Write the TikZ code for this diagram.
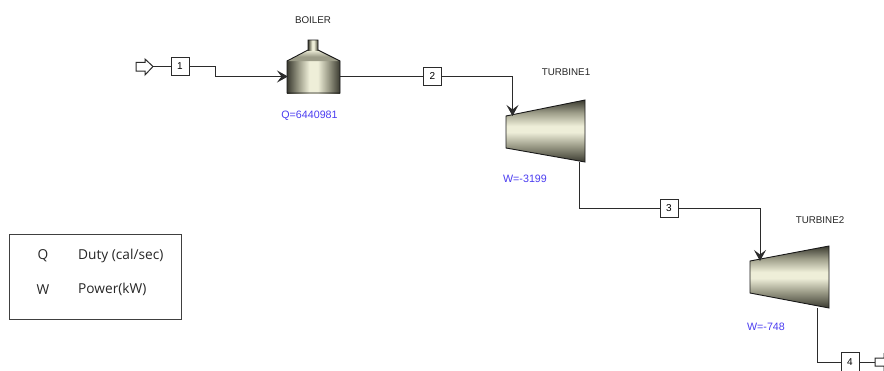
\documentclass[tikz,border=0pt]{standalone}
\usepackage{fontspec}
\setmainfont{Liberation Sans}
\newfontfamily\legendfont{Open Sans}
\usetikzlibrary{arrows.meta}
\definecolor{flowline}{HTML}{2B2B2B}
\definecolor{calc}{HTML}{4A3CF0}
\definecolor{eqdark}{HTML}{3A3A30}
\definecolor{eqmid}{HTML}{9C9C88}
\definecolor{eqlight}{HTML}{EEEED8}
\pgfdeclareverticalshading{turbshade}{100bp}{
  color(0bp)=(eqdark); color(25bp)=(eqdark); color(38bp)=(eqmid); color(49bp)=(eqlight);
  color(54bp)=(eqlight); color(65bp)=(eqmid); color(75bp)=(eqdark); color(100bp)=(eqdark)}
\pgfdeclarehorizontalshading{boilshade}{100bp}{
  color(0bp)=(eqdark); color(25bp)=(eqdark); color(36bp)=(eqmid); color(46bp)=(eqlight); color(54bp)=(eqlight); color(64bp)=(eqmid); color(75bp)=(eqdark); color(100bp)=(eqdark)}
\pgfdeclareverticalshading{coneshade}{100bp}{
  color(0bp)=(eqmid); color(25bp)=(eqmid); color(45bp)=(eqmid); color(75bp)=(eqlight); color(100bp)=(eqlight)}
\tikzset{
  streambox/.style={draw=flowline,fill=white,line width=1pt,minimum width=18pt,minimum height=18.5pt,inner sep=0pt,font=\fontsize{10}{11}\selectfont},
  flow/.style={draw=flowline,line width=1pt},
  flowarrow/.style={flow,-{Stealth[length=11pt,width=12pt,inset=4.5pt]}},
  unitlabel/.style={inner sep=0pt,font=\fontsize{9.8}{11}\selectfont,text=black!85},
  calclabel/.style={inner sep=0pt,font=\fontsize{10.7}{12}\selectfont,text=calc},
  legendtext/.style={inner sep=0pt,font=\legendfont\fontsize{13.7}{15}\selectfont,text=black!85},
  equipline/.style={draw=black!90,line width=.9pt},
  portarrow/.style={draw=flowline,fill=white,line width=1pt,line join=miter}
}
\begin{document}
\begin{tikzpicture}[x=1pt,y=-1pt]
\useasboundingbox (0,0) rectangle (884,370);
\clip (0,0) rectangle (884,370);
% boiler
\path[shade,shading=boilshade] (287,61) rectangle (340,93);
\path[shade,shading=coneshade] (308,50) -- (318,50) -- (340,61) -- (287,61) -- cycle;
\path[shade,shading=boilshade] (308,40) rectangle (318,50);
\draw[equipline] (308,40) -- (318,40) -- (318,50) -- (340,61) -- (340,93) -- (287,93) -- (287,61) -- (308,50) -- cycle;
% turbines
\path[shade,shading=turbshade,equipline] (506,116) -- (585,100) -- (585,162) -- (506,148) -- cycle;
\path[shade,shading=turbshade,equipline] (750,261) -- (829,246) -- (829,308) -- (750,293) -- cycle;
% ports
\coordinate (boilerin) at (288,76.5);
\coordinate (boilerout) at (340,76.5);
\coordinate (t1in) at (512.5,116);
\coordinate (t1out) at (579,162);
\coordinate (t2in) at (760,261);
\coordinate (t2out) at (817,308);
\coordinate (bend1) at (215,66.5);
\coordinate (bend1b) at (215,76.5);
% stream boxes
\node[streambox] (s1) at (180,66.5) {1};
\node[streambox] (s2) at (432.5,76.5) {2};
\node[streambox] (s3) at (669,208.5) {3};
\node[streambox] (s4) at (850,362) {4};
% feed and product arrows
\draw[portarrow] (136,62.3) -- (145,62.3) -- (145,59) -- (153,66.5) -- (145,75) -- (145,71) -- (136,71) -- cycle;
\coordinate (feed) at (153,66.5);
\draw[portarrow] (875,358) -- (884,358) -- (884,354) -- (892,362) -- (884,370) -- (884,366) -- (875,366) -- cycle;
\coordinate (prod) at (875,362);
% connectors
\draw[flow] (feed) -- (s1);
\draw[flowarrow] (s1) -- (bend1) -- (bend1b) -- (boilerin);
\draw[flow] (boilerout) -- (s2);
\draw[flowarrow] (s2) -| (t1in);
\draw[flow] (t1out) |- (s3);
\draw[flowarrow] (s3) -| (t2in);
\draw[flow] (t2out) |- (s4);
\draw[flow] (s4) -- (prod);
% labels
\node[unitlabel] (lb) at (313,20) {BOILER};
\node[calclabel] (lq) at (309.5,115.5) {Q=6440981};
\node[unitlabel] (lt1) at (566,72) {TURBINE1};
\node[calclabel] (lw1) at (525,178.5) {W=-3199};
\node[unitlabel] (lt2) at (820,220) {TURBINE2};
\node[calclabel] (lw2) at (766,326.5) {W=-748};
% legend
\node[draw=black!75,line width=1pt,minimum width=172pt,minimum height=85pt,inner sep=0pt] (legend) at (95,276.5) {};
\node[legendtext] (lgq) at (43,256) {Q};
\node[legendtext] (lgw) at (43,289.5) {W};
\node[legendtext,anchor=west] (lgd) at (78,256) {Duty (cal/sec)};
\node[legendtext,anchor=west] (lgp) at (78,289.5) {Power(kW)};
\end{tikzpicture}
\end{document}
